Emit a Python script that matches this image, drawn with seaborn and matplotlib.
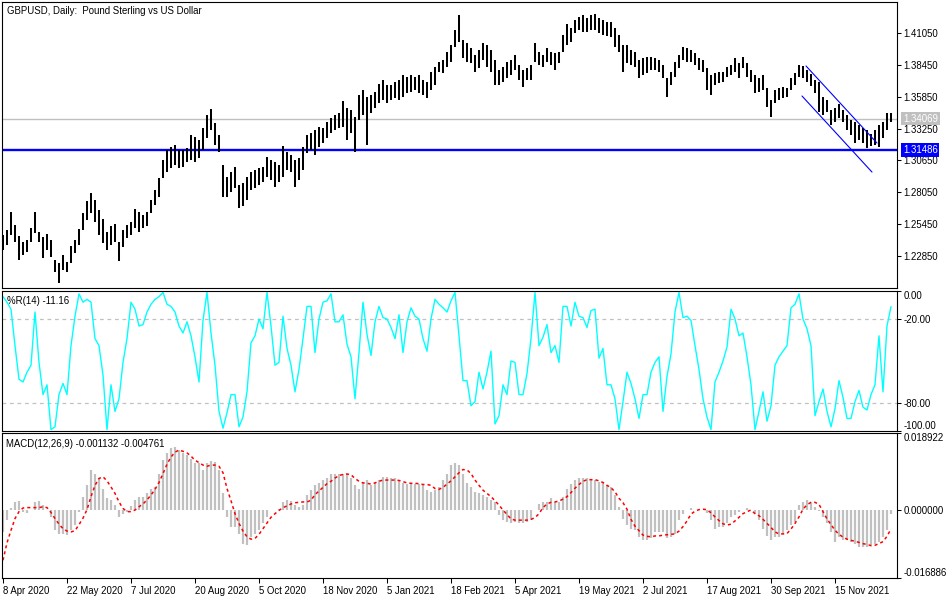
import numpy as np
import matplotlib
matplotlib.use("Agg")
import matplotlib.pyplot as plt
import seaborn as sns

high = [1.2456, 1.2497, 1.2644, 1.2538, 1.2448, 1.2399, 1.2416, 1.2513, 1.2644, 1.2481,
        1.2440, 1.2465, 1.2416, 1.2252, 1.2228, 1.2293, 1.2236, 1.2367, 1.2416, 1.2505,
        1.2636, 1.2734, 1.2799, 1.2742, 1.2660, 1.2587, 1.2481, 1.2530, 1.2546, 1.2399,
        1.2497, 1.2538, 1.2562, 1.2669, 1.2644, 1.2620, 1.2644, 1.2742, 1.2824, 1.2922,
        1.3068, 1.3150, 1.3174, 1.3191, 1.3150, 1.3150, 1.3166, 1.3272, 1.3256, 1.3232,
        1.3329, 1.3436, 1.3485, 1.3370, 1.3272, 1.3028, 1.2930, 1.2970, 1.3011, 1.2864,
        1.2881, 1.2930, 1.2970, 1.2987, 1.3003, 1.3011, 1.3093, 1.3068, 1.3052, 1.3028,
        1.3183, 1.3134, 1.3109, 1.3068, 1.3085, 1.3174, 1.3272, 1.3289, 1.3313, 1.3338,
        1.3329, 1.3378, 1.3411, 1.3436, 1.3452, 1.3550, 1.3493, 1.3476, 1.3419, 1.3599,
        1.3640, 1.3583, 1.3599, 1.3623, 1.3689, 1.3721, 1.3680, 1.3680, 1.3705, 1.3721,
        1.3762, 1.3746, 1.3762, 1.3746, 1.3762, 1.3721, 1.3705, 1.3787, 1.3828, 1.3868,
        1.3885, 1.3950, 1.4007, 1.4129, 1.4252, 1.4048, 1.4023, 1.3983, 1.3925, 1.3966,
        1.4023, 1.4007, 1.3966, 1.3885, 1.3803, 1.3828, 1.3868, 1.3885, 1.3925, 1.3844,
        1.3803, 1.3819, 1.3844, 1.4023, 1.3950, 1.3925, 1.3983, 1.3950, 1.3942, 1.3950,
        1.4089, 1.4178, 1.4146, 1.4211, 1.4235, 1.4252, 1.4227, 1.4252, 1.4260, 1.4227,
        1.4211, 1.4195, 1.4195, 1.4146, 1.4089, 1.4007, 1.4007, 1.3966, 1.3950, 1.3885,
        1.3901, 1.3909, 1.3909, 1.3901, 1.3885, 1.3844, 1.3738, 1.3787, 1.3868, 1.3925,
        1.3991, 1.3983, 1.3966, 1.3942, 1.3901, 1.3885, 1.3819, 1.3762, 1.3779, 1.3787,
        1.3787, 1.3828, 1.3844, 1.3901, 1.3860, 1.3909, 1.3860, 1.3803, 1.3762, 1.3738,
        1.3762, 1.3656, 1.3558, 1.3640, 1.3656, 1.3664, 1.3656, 1.3738, 1.3779, 1.3844,
        1.3836, 1.3803, 1.3770, 1.3721, 1.3705, 1.3583, 1.3558, 1.3476, 1.3493, 1.3525,
        1.3476, 1.3436, 1.3395, 1.3378, 1.3354, 1.3329, 1.3313, 1.3281, 1.3313, 1.3354,
        1.3378, 1.3452, 1.3452]
low = [1.2334, 1.2375, 1.2456, 1.2399, 1.2252, 1.2293, 1.2318, 1.2399, 1.2473, 1.2399,
       1.2269, 1.2334, 1.2277, 1.2154, 1.2065, 1.2171, 1.2154, 1.2228, 1.2310, 1.2375,
       1.2497, 1.2579, 1.2636, 1.2562, 1.2456, 1.2391, 1.2334, 1.2375, 1.2399, 1.2244,
       1.2358, 1.2432, 1.2456, 1.2513, 1.2481, 1.2513, 1.2530, 1.2636, 1.2701, 1.2767,
       1.2922, 1.2970, 1.3003, 1.3028, 1.3003, 1.3011, 1.3052, 1.3068, 1.3052, 1.3085,
       1.3150, 1.3248, 1.3313, 1.3191, 1.3134, 1.2767, 1.2767, 1.2807, 1.2840, 1.2677,
       1.2693, 1.2742, 1.2824, 1.2840, 1.2864, 1.2889, 1.2930, 1.2905, 1.2848, 1.2889,
       1.2930, 1.2987, 1.2970, 1.2848, 1.2905, 1.2987, 1.3126, 1.3150, 1.3109, 1.3174,
       1.3207, 1.3248, 1.3289, 1.3313, 1.3329, 1.3338, 1.3232, 1.3289, 1.3134, 1.3395,
       1.3436, 1.3191, 1.3452, 1.3493, 1.3534, 1.3558, 1.3534, 1.3558, 1.3574, 1.3558,
       1.3583, 1.3615, 1.3623, 1.3640, 1.3615, 1.3599, 1.3574, 1.3640, 1.3680, 1.3787,
       1.3779, 1.3828, 1.3868, 1.3991, 1.4031, 1.3901, 1.3868, 1.3860, 1.3787, 1.3819,
       1.3885, 1.3828, 1.3787, 1.3680, 1.3680, 1.3705, 1.3738, 1.3762, 1.3803, 1.3721,
       1.3664, 1.3721, 1.3721, 1.3868, 1.3844, 1.3828, 1.3868, 1.3844, 1.3803, 1.3860,
       1.3950, 1.4007, 1.4031, 1.4105, 1.4129, 1.4113, 1.4113, 1.4129, 1.4129, 1.4105,
       1.4089, 1.4080, 1.4072, 1.3991, 1.3950, 1.3787, 1.3860, 1.3844, 1.3828, 1.3738,
       1.3762, 1.3779, 1.3803, 1.3803, 1.3787, 1.3738, 1.3583, 1.3680, 1.3746, 1.3819,
       1.3885, 1.3868, 1.3868, 1.3844, 1.3803, 1.3787, 1.3640, 1.3599, 1.3680, 1.3697,
       1.3705, 1.3746, 1.3762, 1.3787, 1.3738, 1.3819, 1.3746, 1.3705, 1.3615, 1.3623,
       1.3640, 1.3501, 1.3419, 1.3534, 1.3558, 1.3574, 1.3583, 1.3640, 1.3680, 1.3746,
       1.3738, 1.3705, 1.3672, 1.3615, 1.3460, 1.3436, 1.3460, 1.3354, 1.3378, 1.3411,
       1.3378, 1.3313, 1.3272, 1.3207, 1.3232, 1.3207, 1.3166, 1.3183, 1.3191, 1.3174,
       1.3248, 1.3313, 1.3378]

# Williams %R(14)
wpr = [-4, -8, -13, -39, -63, -65, -58, -53, -15, -51,
       -74, -67, -99, -97, -74, -66, -74, -39, -18, -2,
       -8, -6, -8, -34, -39, -60, -99, -67, -86, -77,
       -51, -34, -8, -13, -25, -24, -15, -9.5, -6, -4,
       -1, -9.5, -11, -15, -25, -30, -22, -32, -47, -65,
       -21, -1, -30, -53, -86, -98, -87, -74, -74, -97,
       -90, -72, -37, -32, -20, -27, -1, -25, -53, -51,
       -18, -41, -53, -72, -56, -34, -11, -11, -44, -20,
       -8, -7, -2, -22, -22, -17, -38, -47, -77, -44,
       -8, -31, -46, -22, -11, -19, -20, -26, -34, -17,
       -44, -22, -12, -18, -20, -34, -43, -20, -6, -9.5,
       -12, -15, -7, -1, -32, -64, -64, -82, -79, -58,
       -70, -58, -43, -95, -89, -67, -74, -50, -51, -74,
       -74, -59, -34, -1, -39, -33, -24, -44, -39, -51,
       -11, -11, -25, -8, -18, -19, -26, -14, -13, -48,
       -41, -67, -67, -77, -99, -79, -58, -66, -77, -91,
       -74, -74, -58, -51, -47, -86, -61, -45, -15, -1,
       -19, -18, -21, -39, -56, -77, -90, -99, -65, -58,
       -50, -40, -13, -20, -32, -30, -47, -67, -99, -86,
       -72, -93, -82, -53, -47, -43, -39, -12, -9.5, -2,
       -20, -27, -39, -89, -79, -70, -86, -97, -84, -64,
       -76, -91, -91, -79, -71, -83, -85, -74, -67, -32,
       -72, -25, -11.16]

# MACD(12,26,9): main (histogram) and signal (dotted)
macd = [-0.0055, -0.0026, 0.0003, 0.0019, 0.0022, -0.0005, -0.0008, -0.0001, 0.0019, 0.0022,
        0.0011, -0.0001, -0.0018, -0.0051, -0.0059, -0.0059, -0.0063, -0.0051, -0.0038, -0.0005,
        0.0032, 0.0060, 0.0098, 0.0089, 0.0077, 0.0052, 0.0028, 0.0023, 0.0011, -0.0018,
        -0.0010, -0.0005, 0.0009, 0.0023, 0.0032, 0.0032, 0.0040, 0.0052, 0.0056, 0.0089,
        0.0122, 0.0139, 0.0151, 0.0155, 0.0147, 0.0139, 0.0135, 0.0126, 0.0114, 0.0114,
        0.0098, 0.0114, 0.0121, 0.0118, 0.0098, 0.0040, -0.0018, -0.0042, -0.0042, -0.0059,
        -0.0084, -0.0088, -0.0067, -0.0059, -0.0051, -0.0034, -0.0019, -0.0002, -0.0001, 0.0001,
        0.0019, 0.0023, 0.0022, 0.0011, 0.0007, 0.0011, 0.0036, 0.0048, 0.0060, 0.0065,
        0.0073, 0.0077, 0.0089, 0.0089, 0.0089, 0.0089, 0.0088, 0.0077, 0.0060, 0.0052,
        0.0069, 0.0073, 0.0060, 0.0065, 0.0073, 0.0081, 0.0081, 0.0077, 0.0077, 0.0073,
        0.0065, 0.0063, 0.0065, 0.0063, 0.0063, 0.0060, 0.0048, 0.0044, 0.0048, 0.0056,
        0.0073, 0.0089, 0.0110, 0.0114, 0.0110, 0.0089, 0.0065, 0.0056, 0.0044, 0.0040,
        0.0036, 0.0032, 0.0023, 0.0019, -0.0014, -0.0026, -0.0030, -0.0034, -0.0030, -0.0033,
        -0.0034, -0.0030, -0.0026, -0.0001, 0.0015, 0.0018, 0.0019, 0.0028, 0.0019, 0.0019,
        0.0032, 0.0052, 0.0063, 0.0074, 0.0077, 0.0077, 0.0077, 0.0074, 0.0073, 0.0069,
        0.0065, 0.0060, 0.0055, 0.0036, 0.0007, -0.0024, -0.0038, -0.0047, -0.0051, -0.0067,
        -0.0075, -0.0075, -0.0071, -0.0055, -0.0055, -0.0055, -0.0071, -0.0067, -0.0059, -0.0026,
        -0.0010, -0.0001, 0.0005, -0.0001, -0.0001, -0.0001, -0.0008, -0.0026, -0.0047, -0.0042,
        -0.0042, -0.0034, -0.0018, -0.0014, -0.0005, -0.0001, 0.0003, -0.0001, -0.0010, -0.0026,
        -0.0047, -0.0065, -0.0075, -0.0067, -0.0067, -0.0059, -0.0051, -0.0038, -0.0030, 0.0011,
        0.0019, 0.0023, 0.0019, 0.0007, -0.0003, -0.0018, -0.0034, -0.0055, -0.0079, -0.0067,
        -0.0075, -0.0075, -0.0079, -0.0084, -0.0092, -0.0092, -0.0093, -0.0088, -0.0084, -0.0079,
        -0.0067, -0.0050, -0.001132]
signal = [-0.0125, -0.0082, -0.0051, -0.0022, -0.0005, 0.0004, 0.0005, 0.0005, 0.0005, 0.0005,
          0.0007, 0.0005, -0.0007, -0.0022, -0.0036, -0.0047, -0.0053, -0.0055, -0.0052, -0.0037,
          -0.0021, 0.0000, 0.0032, 0.0060, 0.0077, 0.0081, 0.0071, 0.0056, 0.0040, 0.0019,
          0.0003, -0.0005, -0.0005, -0.0001, 0.0007, 0.0014, 0.0024, 0.0036, 0.0050, 0.0067,
          0.0089, 0.0112, 0.0130, 0.0142, 0.0147, 0.0144, 0.0140, 0.0132, 0.0122, 0.0116,
          0.0110, 0.0107, 0.0110, 0.0110, 0.0107, 0.0091, 0.0052, 0.0022, -0.0010, -0.0034,
          -0.0053, -0.0067, -0.0073, -0.0071, -0.0061, -0.0047, -0.0033, -0.0019, -0.0010, -0.0002,
          0.0005, 0.0009, 0.0014, 0.0017, 0.0018, 0.0019, 0.0019, 0.0023, 0.0037, 0.0046,
          0.0055, 0.0064, 0.0070, 0.0078, 0.0084, 0.0087, 0.0088, 0.0086, 0.0077, 0.0070,
          0.0066, 0.0065, 0.0063, 0.0066, 0.0070, 0.0073, 0.0073, 0.0073, 0.0073, 0.0072,
          0.0069, 0.0066, 0.0065, 0.0065, 0.0064, 0.0062, 0.0062, 0.0060, 0.0052, 0.0050,
          0.0055, 0.0063, 0.0071, 0.0081, 0.0091, 0.0099, 0.0098, 0.0089, 0.0073, 0.0060,
          0.0048, 0.0040, 0.0032, 0.0022, 0.0011, -0.0001, -0.0012, -0.0023, -0.0026, -0.0026,
          -0.0026, -0.0026, -0.0024, -0.0020, -0.0010, 0.0005, 0.0014, 0.0018, 0.0019, 0.0021,
          0.0026, 0.0032, 0.0042, 0.0053, 0.0062, 0.0070, 0.0074, 0.0074, 0.0074, 0.0071,
          0.0067, 0.0060, 0.0054, 0.0044, 0.0028, 0.0017, 0.0001, -0.0024, -0.0041, -0.0052,
          -0.0063, -0.0066, -0.0067, -0.0065, -0.0065, -0.0063, -0.0062, -0.0061, -0.0060, -0.0053,
          -0.0042, -0.0028, -0.0011, -0.0004, 0.0000, 0.0001, 0.0000, -0.0008, -0.0018, -0.0027,
          -0.0035, -0.0038, -0.0036, -0.0028, -0.0019, -0.0010, -0.0005, -0.0001, -0.0010, -0.0015,
          -0.0024, -0.0034, -0.0044, -0.0055, -0.0060, -0.0060, -0.0059, -0.0048, -0.0034, -0.0018,
          0.0001, 0.0012, 0.0018, 0.0018, 0.0013, -0.0005, -0.0023, -0.0037, -0.0051, -0.0061,
          -0.0068, -0.0073, -0.0076, -0.0078, -0.0081, -0.0084, -0.0086, -0.0089, -0.0088, -0.0084,
          -0.0079, -0.0066, -0.004761]

date_labels = ["8 Apr 2020", "22 May 2020", "7 Jul 2020", "20 Aug 2020", "5 Oct 2020",
               "18 Nov 2020", "5 Jan 2021", "18 Feb 2021", "5 Apr 2021", "19 May 2021",
               "2 Jul 2021", "17 Aug 2021", "30 Sep 2021", "15 Nov 2021"]
price_ticks = [1.41050, 1.38450, 1.35850, 1.33250, 1.30650, 1.28050, 1.25450, 1.22850]
last_price = 1.34069
support_level = 1.31486
# descending channel drawn on the chart (day index, price)
channel_upper = ([401.5, 437.0], [1.3836, 1.3207])
channel_lower = ([399.5, 434.5], [1.3591, 1.2970])

day = np.arange(len(high)) * 2          # trading-day index, one bar every two days
date_ticks = np.arange(len(date_labels)) * 32

sns.set_style("white")
plt.rcParams['font.family'] = ['Liberation Sans', 'DejaVu Sans']
fs = 6.9

fig = plt.figure(figsize=(9.5, 6), dpi=100)
fig.patch.set_facecolor('white')
ax1 = fig.add_axes([2/950, 312/600, 895/950, 286/600])
ax2 = fig.add_axes([2/950, 169/600, 895/950, 140/600])
ax3 = fig.add_axes([2/950, 22/600, 895/950, 145/600])

for ax in (ax1, ax2, ax3):
    for s in ax.spines.values():
        s.set_color('black')
        s.set_linewidth(0.8)
    ax.yaxis.tick_right()
    ax.tick_params(axis='y', which='both', left=False, right=True, direction='out',
                   length=3, width=0.75, pad=1.5, labelsize=fs, colors='black')
    ax.tick_params(axis='x', bottom=False, labelbottom=False)

# --- price panel
ax1.set_ylim(1.2024, 1.4358)
ax1.axhline(last_price, color='#c0c0c0', lw=1.0)
ax1.axhline(support_level, color='#0000ff', lw=1.7)
ax1.vlines(day, low, high, colors='black', lw=1.45)
ax1.plot(*channel_upper, color='#0000ff', lw=0.8)
ax1.plot(*channel_lower, color='#0000ff', lw=0.8)
ax1.set_yticks(price_ticks)
ax1.set_yticklabels([f"{v:.5f}" for v in price_ticks])
ax1.text(0.0056, 0.987, "GBPUSD, Daily:  Pound Sterling vs US Dollar", transform=ax1.transAxes,
         fontsize=fs, va='top', ha='left', color='black')
for val, bg in ((last_price, '#c0c0c0'), (support_level, '#0000ff')):
    ax1.annotate(f"{val:.5f}", xy=(1, val), xycoords=ax1.get_yaxis_transform(),
                 xytext=(4.2, 0), textcoords='offset points', fontsize=fs, color='white',
                 va='center', ha='left', annotation_clip=False,
                 bbox=dict(boxstyle='square,pad=0.18', fc=bg, ec='none'))

# --- %R panel
ax2.set_ylim(-100, 0)
for lv in (-20, -80):
    ax2.axhline(lv, color='#c0c0c0', lw=0.9, ls=(0, (3, 3)))
sns.lineplot(x=day, y=wpr, ax=ax2, color='#00ffff', lw=1.0, sort=False)
ax2.set_yticks([0, -20, -80, -100])
ax2.set_yticklabels(["0.00", "-20.00", "-80.00", "-100.00"])
ax2.text(0.0052, 0.965, "%R(14) -11.16", transform=ax2.transAxes, fontsize=fs,
         va='top', ha='left', color='black')

# --- MACD panel
ax3.set_ylim(-0.016886, 0.018922)
ax3.vlines(day, 0, macd, colors='#c0c0c0', lw=1.6)
sns.lineplot(x=day, y=signal, ax=ax3, color='red', lw=1.1, ls=(0, (2, 2)), sort=False)
ax3.set_yticks([0.018922, 0.0, -0.016886])
ax3.set_yticklabels(["0.018922", "0.000000", "-0.016886"])
ax3.text(0.0045, 0.96, "MACD(12,26,9) -0.001132 -0.004761", transform=ax3.transAxes,
         fontsize=fs, va='top', ha='left', color='black')
ax3.set_xticks(date_ticks)
ax3.set_xticklabels(date_labels)
ax3.tick_params(axis='x', bottom=True, labelbottom=True, direction='out', length=3.5,
                width=0.75, pad=2, labelsize=fs, colors='black')
for lab in ax3.get_xticklabels():
    lab.set_ha('left')

for ax in (ax1, ax2, ax3):
    ax.set_xlim(-0.5, 447)
    ax.set_xlabel('')
    ax.set_ylabel('')

# keep the end labels inside their panels, as the terminal does
for ax, top, bottom in ((ax2, 0, -100), (ax3, 0.018922, -0.016886)):
    for t in ax.yaxis.get_major_ticks():
        if np.isclose(t.get_loc(), top):
            t.label2.set_va('top')
        elif np.isclose(t.get_loc(), bottom):
            t.label2.set_va('bottom')

fig.savefig("out.png", dpi=100, facecolor='white')
